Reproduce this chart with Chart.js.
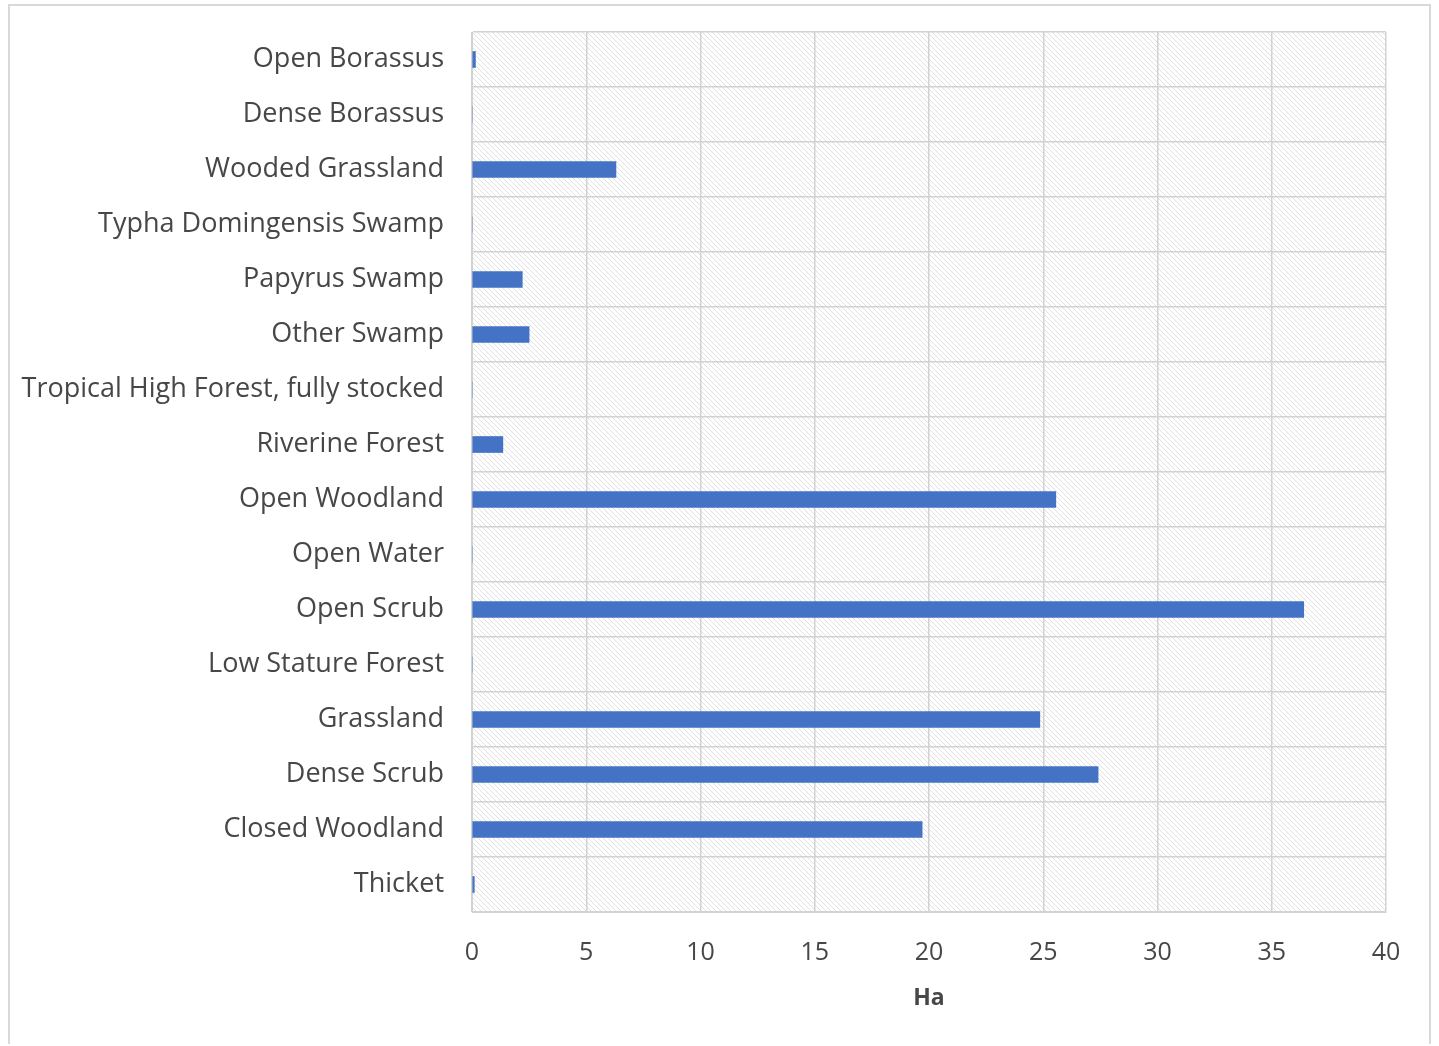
<!DOCTYPE html>
<html>
<head>
<meta charset="utf-8">
<script src="https://cdn.jsdelivr.net/npm/chart.js@4"></script>
<style>
  html, body { margin: 0; padding: 0; background: #fff; }
  #wrap { position: relative; width: 1439px; height: 1046px; }
  #frame { position: absolute; left: 8px; top: 4px; width: 1423px; height: 1040px; border: 2px solid #d9d9d9; border-bottom: none; box-sizing: border-box; }
  canvas { position: absolute; left: 0; top: 0; }
</style>
</head>
<body>
<div id="wrap">
  <div id="frame"></div>
  <canvas id="chart" width="1439" height="1046"></canvas>
</div>
<script>
// land cover classes, top to bottom
const categories = [
  'Open Borassus', 'Dense Borassus', 'Wooded Grassland', 'Typha Domingensis Swamp',
  'Papyrus Swamp', 'Other Swamp', 'Tropical High Forest, fully stocked', 'Riverine Forest',
  'Open Woodland', 'Open Water', 'Open Scrub', 'Low Stature Forest',
  'Grassland', 'Dense Scrub', 'Closed Woodland', 'Thicket'
];
const hectares = [0.15, 0, 6.3, 0, 2.2, 2.5, 0, 1.35, 25.55, 0, 36.4, 0, 24.85, 27.4, 19.7, 0.1];
const xTicks = [0, 5, 10, 15, 20, 25, 30, 35, 40];

const barColor = '#4472c4';
const textColor = '#474747';
const gridColor = '#d2d2d2';

// light diagonal hatch behind the plot area
const hatchPlugin = {
  id: 'hatch',
  beforeDraw(chart) {
    const { ctx, chartArea: a } = chart;
    const c = document.createElement('canvas');
    c.width = 5; c.height = 5;
    const g = c.getContext('2d');
    g.fillStyle = '#ffffff';
    g.fillRect(0, 0, 5, 5);
    g.strokeStyle = '#e0e0e0';
    g.lineWidth = 1;
    g.beginPath();
    g.moveTo(-1, -1); g.lineTo(6, 6);
    g.moveTo(-1, 4); g.lineTo(1, 6);
    g.moveTo(4, -1); g.lineTo(6, 1);
    g.stroke();
    ctx.save();
    ctx.fillStyle = ctx.createPattern(c, 'repeat');
    ctx.fillRect(a.left, a.top, a.right - a.left, a.bottom - a.top);
    ctx.restore();
  }
};

new Chart(document.getElementById('chart'), {
  type: 'bar',
  data: {
    labels: categories,
    datasets: [{
      label: 'Ha',
      data: hectares,
      backgroundColor: barColor,
      barThickness: 16
    }]
  },
  options: {
    indexAxis: 'y',
    responsive: false,
    animation: false,
    layout: { padding: { top: 32, right: 53, bottom: 30, left: 0 } },
    plugins: {
      legend: { display: false },
      tooltip: { enabled: false }
    },
    scales: {
      x: {
        min: 0,
        max: 40,
        afterBuildTicks: (scale) => { scale.ticks = xTicks.map(v => ({ value: v })); },
        afterFit: (scale) => { scale.height = 104; },
        grid: { color: gridColor, lineWidth: 1.5, drawTicks: false },
        border: { display: true, color: gridColor },
        ticks: {
          color: textColor,
          font: { family: 'Open Sans', size: 25 },
          padding: 26
        },
        title: {
          display: true,
          text: 'Ha',
          color: textColor,
          font: { family: 'Open Sans', size: 23, weight: 'bold' },
          padding: { top: 6 }
        }
      },
      y: {
        afterFit: (scale) => {
          scale.width = 472;
          scale.paddingTop = 0;
          scale.paddingBottom = 0;
        },
        grid: { color: gridColor, lineWidth: 1.5, drawTicks: false, offset: true },
        border: { display: true, color: gridColor },
        ticks: {
          color: textColor,
          font: { family: 'Open Sans', size: 27 },
          padding: 28
        }
      }
    }
  },
  plugins: [hatchPlugin]
});
</script>
</body>
</html>
